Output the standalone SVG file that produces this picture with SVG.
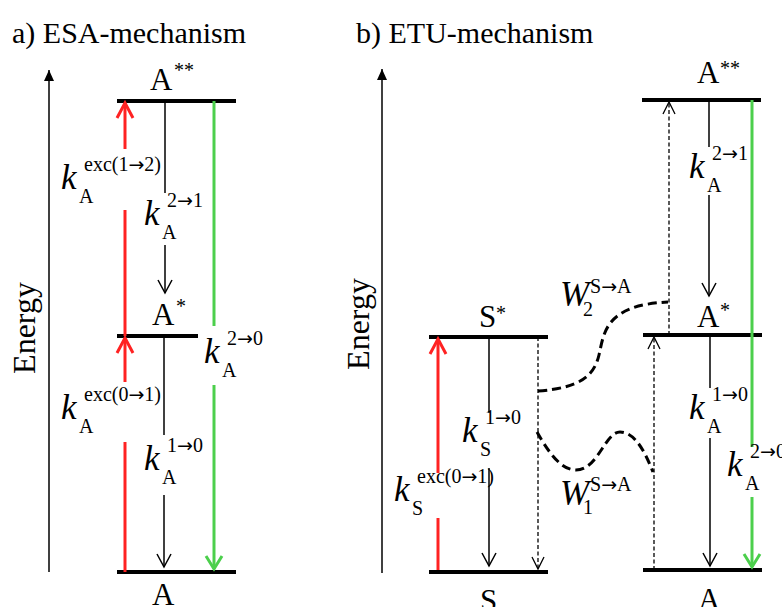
<svg xmlns="http://www.w3.org/2000/svg" width="782" height="607" viewBox="0 0 782 607">
<style>
text{font-family:"Liberation Serif","Times New Roman",serif;fill:#000}
.title{font-size:30px}
.en{font-size:32px}
.lvl{font-size:31px}
.st{font-size:20px}
.k{font-size:35px;font-style:italic}
.s{font-size:20px}
.ar{font-family:"DejaVu Sans",sans-serif;font-size:19px}
.level{stroke:#000;stroke-width:4;fill:none}
.axis{stroke:#000;stroke-width:1.5;fill:none}
.blk{stroke:#000;stroke-width:1.5;fill:none}
.red{stroke:#ff2222;stroke-width:3;fill:none}
.grn{stroke:#4ccf4c;stroke-width:3;fill:none}
.dsh{stroke:#000;stroke-width:1.3;fill:none;stroke-dasharray:4 2.5}
.curve{stroke:#000;stroke-width:3;fill:none;stroke-dasharray:9 5}
</style>
<defs>
<marker id="ahB" markerUnits="userSpaceOnUse" orient="auto" overflow="visible" markerWidth="1" markerHeight="1"><path d="M-13,-7 L0,0 L-13,7" fill="none" stroke="#000" stroke-width="1.5"/></marker>
<marker id="ahR" markerUnits="userSpaceOnUse" orient="auto" overflow="visible" markerWidth="1" markerHeight="1"><path d="M-15,-8 L0,0 L-15,8" fill="none" stroke="#ff2222" stroke-width="3"/></marker>
<marker id="ahG" markerUnits="userSpaceOnUse" orient="auto" overflow="visible" markerWidth="1" markerHeight="1"><path d="M-13,-8 L0,0 L-13,8" fill="none" stroke="#4ccf4c" stroke-width="3"/></marker>
<marker id="ahD" markerUnits="userSpaceOnUse" orient="auto" overflow="visible" markerWidth="1" markerHeight="1"><path d="M-12,-6 L0,0 L-12,6" fill="none" stroke="#000" stroke-width="1.3"/></marker>
<marker id="ahAx" markerUnits="userSpaceOnUse" orient="auto" overflow="visible" markerWidth="1" markerHeight="1"><path d="M-11,-5 L0,0 L-11,5 Z" fill="#000" stroke="none"/></marker>
</defs>

<g id="titles">
<text class="title" x="12" y="43">a) ESA-mechanism</text>
<text class="title" x="356" y="43">b) ETU-mechanism</text>
</g>

<g id="axes">
<line class="axis" x1="49" y1="572" x2="49" y2="70" marker-end="url(#ahAx)"/>
<text class="en" transform="translate(35,328) rotate(-90)" text-anchor="middle">Energy</text>
<line class="axis" x1="382" y1="573" x2="382" y2="69" marker-end="url(#ahAx)"/>
<text class="en" transform="translate(369,324) rotate(-90)" text-anchor="middle">Energy</text>
</g>

<!-- Panel a nodes -->
<g id="a-A2">
<line class="level" x1="117" y1="101" x2="236" y2="101"/>
<text class="lvl" x="150" y="90">A</text><text class="st" x="174" y="77">**</text>
</g>
<g id="a-A1">
<line class="level" x1="117" y1="336" x2="198" y2="336"/>
<text class="lvl" x="152" y="325">A</text><text class="st" x="176" y="313">*</text>
</g>
<g id="a-A0">
<line class="level" x1="117" y1="572" x2="236" y2="572"/>
<text class="lvl" x="152" y="605">A</text>
</g>

<!-- Panel b nodes -->
<g id="b-S1">
<line class="level" x1="429" y1="337" x2="548" y2="337"/>
<text class="lvl" x="479" y="327">S</text><text class="st" x="496" y="320">*</text>
</g>
<g id="b-S0">
<line class="level" x1="429" y1="572" x2="548" y2="572"/>
<text class="lvl" x="480" y="611">S</text>
</g>
<g id="b-A2">
<line class="level" x1="642" y1="100" x2="761" y2="100"/>
<text class="lvl" x="697" y="83">A</text><text class="st" x="720" y="75">**</text>
</g>
<g id="b-A1">
<line class="level" x1="643" y1="335" x2="762" y2="335"/>
<text class="lvl" x="697" y="327">A</text><text class="st" x="720" y="317">*</text>
</g>
<g id="b-A0">
<line class="level" x1="643" y1="570" x2="762" y2="570"/>
<text class="lvl" x="698" y="610">A</text>
</g>

<g id="connectors">
<!-- panel a -->
<line class="red" x1="125" y1="572" x2="125" y2="442"/>
<line class="red" x1="125" y1="382" x2="125" y2="338" marker-end="url(#ahR)"/>
<line class="red" x1="125" y1="336" x2="125" y2="210"/>
<line class="red" x1="125" y1="149" x2="125" y2="103" marker-end="url(#ahR)"/>
<line class="blk" x1="165" y1="101" x2="165" y2="193"/>
<line class="blk" x1="165" y1="245" x2="165" y2="293" marker-end="url(#ahB)"/>
<line class="blk" x1="164" y1="336" x2="164" y2="435"/>
<line class="blk" x1="164" y1="495" x2="164" y2="567" marker-end="url(#ahB)"/>
<line class="grn" x1="214" y1="101" x2="214" y2="326"/>
<line class="grn" x1="214" y1="385" x2="214" y2="569" marker-end="url(#ahG)"/>
<!-- panel b -->
<line class="red" x1="438" y1="570" x2="438" y2="518"/>
<line class="red" x1="438" y1="473" x2="438" y2="339" marker-end="url(#ahR)"/>
<line class="blk" x1="489" y1="337" x2="489" y2="413"/>
<line class="blk" x1="489" y1="468" x2="489" y2="566" marker-end="url(#ahB)"/>
<line class="dsh" x1="538" y1="337" x2="538" y2="569" marker-end="url(#ahD)"/>
<line class="dsh" x1="669" y1="335" x2="669" y2="102" marker-end="url(#ahD)"/>
<line class="dsh" x1="654" y1="570" x2="654" y2="337" marker-end="url(#ahD)"/>
<line class="blk" x1="709" y1="100" x2="709" y2="147"/>
<line class="blk" x1="709" y1="195" x2="709" y2="296" marker-end="url(#ahB)"/>
<line class="blk" x1="710" y1="335" x2="710" y2="388"/>
<line class="blk" x1="710" y1="438" x2="710" y2="566" marker-end="url(#ahB)"/>
<line class="grn" x1="752" y1="100" x2="752" y2="447"/>
<line class="grn" x1="752" y1="497" x2="752" y2="567" marker-end="url(#ahG)"/>
<path class="curve" d="M538,391 C580,388 594,376 599,355 C604,334 604,305 668,302"/>
<path class="curve" d="M537,432 C550,455 562,470 576,470 C598,470 605,432 620,432 C635,432 645,452 653,472"/>
</g>

<g id="labels">
<text class="k" x="61" y="189">k</text><text class="s" x="79" y="203">A</text><text class="s" x="84" y="171">exc(1<tspan class="ar">→</tspan>2)</text>
<text class="k" x="144" y="225">k</text><text class="s" x="162" y="239">A</text><text class="s" x="167" y="207">2<tspan class="ar">→</tspan>1</text>
<text class="k" x="61" y="419">k</text><text class="s" x="79" y="433">A</text><text class="s" x="84" y="401">exc(0<tspan class="ar">→</tspan>1)</text>
<text class="k" x="144" y="470">k</text><text class="s" x="162" y="484">A</text><text class="s" x="167" y="452">1<tspan class="ar">→</tspan>0</text>
<text class="k" x="204" y="363">k</text><text class="s" x="222" y="377">A</text><text class="s" x="227" y="345">2<tspan class="ar">→</tspan>0</text>

<text class="k" x="394" y="501">k</text><text class="s" x="412" y="515">S</text><text class="s" x="417" y="483">exc(0<tspan class="ar">→</tspan>1)</text>
<text class="k" x="462" y="442">k</text><text class="s" x="480" y="456">S</text><text class="s" x="485" y="424">1<tspan class="ar">→</tspan>0</text>
<text class="k" x="689" y="178">k</text><text class="s" x="707" y="192">A</text><text class="s" x="712" y="160">2<tspan class="ar">→</tspan>1</text>
<text class="k" x="689" y="419">k</text><text class="s" x="707" y="433">A</text><text class="s" x="712" y="401">1<tspan class="ar">→</tspan>0</text>
<text class="k" x="727" y="476">k</text><text class="s" x="745" y="490">A</text><text class="s" x="750" y="458">2<tspan class="ar">→</tspan>0</text>

<text class="k" x="560" y="306">W</text><text class="s" x="583" y="316">2</text><text class="s" x="590" y="293">S<tspan class="ar">→</tspan>A</text>
<text class="k" x="560" y="505">W</text><text class="s" x="583" y="514">1</text><text class="s" x="590" y="491">S<tspan class="ar">→</tspan>A</text>
</g>
</svg>
